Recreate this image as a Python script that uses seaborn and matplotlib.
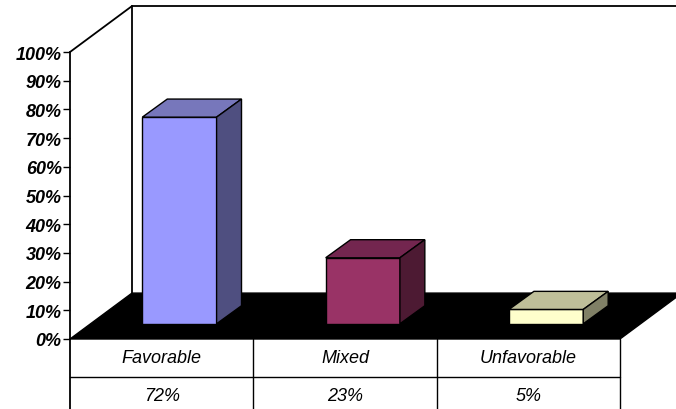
import matplotlib
matplotlib.use('Agg')
import matplotlib.pyplot as plt
from matplotlib.patches import Polygon, Rectangle
import seaborn as sns

# data
categories = ['Favorable', 'Mixed', 'Unfavorable']
values = [72, 23, 5]
value_labels = ['72%', '23%', '5%']
yticks = [0, 10, 20, 30, 40, 50, 60, 70, 80, 90, 100]

# colours of the three faces of each bar
front_colors = ['#9999FF', '#993366', '#FFFFCC']
top_colors = ['#7777BB', '#73264F', '#BFBF99']
side_colors = ['#4F4F80', '#4D1A33', '#808066']

sns.set_style('white')
plt.rcParams['font.family'] = ['Liberation Sans', 'DejaVu Sans']
plt.rcParams['text.color'] = 'black'
plt.rcParams['ytick.color'] = 'black'
plt.rcParams['ytick.labelcolor'] = 'black'

fig = plt.figure(figsize=(6.76, 4.10), dpi=100)
ax = fig.add_axes([70 / 676, 70 / 410, 550 / 676, 287 / 410])

# depth of the floor / walls and of the bars (data units)
DX, DY = 0.338, 16.0
bar_dx, bar_dy = 0.097, 5.3
depth_dx, depth_dy = 0.136, 6.3

# floor
ax.add_patch(Polygon([(-0.5, 0), (2.5, 0), (2.5 + DX, DY), (-0.5 + DX, DY)],
                     closed=True, facecolor='black', edgecolor='black',
                     clip_on=False, zorder=1))
# walls
lw = 1.3
ax.plot([-0.5, -0.5 + DX], [100, 100 + DY], color='black', lw=lw, clip_on=False, zorder=1)
ax.plot([-0.5 + DX, -0.5 + DX], [DY, 100 + DY], color='black', lw=lw, clip_on=False, zorder=1)
ax.plot([-0.5 + DX, 2.5 + DX], [100 + DY, 100 + DY], color='black', lw=lw, clip_on=False, zorder=1)

sns.barplot(x=categories, y=values, hue=categories, palette=front_colors,
            saturation=1, width=0.405, edgecolor='black', linewidth=1,
            legend=False, ax=ax)

bars = [p for p in ax.patches if isinstance(p, Rectangle)]
for i, p in enumerate(bars):
    p.set_x(p.get_x() + bar_dx)
    p.set_y(p.get_y() + bar_dy)
    p.set_clip_on(False)
    p.set_zorder(3)
    x0, y0, w, h = p.get_x(), p.get_y(), p.get_width(), p.get_height()
    top = Polygon([(x0, y0 + h), (x0 + w, y0 + h),
                   (x0 + w + depth_dx, y0 + h + depth_dy), (x0 + depth_dx, y0 + h + depth_dy)],
                  closed=True, facecolor=top_colors[i], edgecolor='black', lw=1,
                  clip_on=False, zorder=3)
    side = Polygon([(x0 + w, y0), (x0 + w + depth_dx, y0 + depth_dy),
                    (x0 + w + depth_dx, y0 + h + depth_dy), (x0 + w, y0 + h)],
                   closed=True, facecolor=side_colors[i], edgecolor='black', lw=1,
                   clip_on=False, zorder=3)
    ax.add_patch(top)
    ax.add_patch(side)

ax.set_xlim(-0.5, 2.5)
ax.set_ylim(0, 100)
ax.set_yticks(yticks)
ax.set_yticklabels([f'{t}%' for t in yticks], fontsize=13,
                   fontweight='bold', fontstyle='italic', color='black')
ax.set_xticks([])
ax.set_xlabel('')
ax.set_ylabel('')
ax.tick_params(axis='y', left=True, length=5, width=1, pad=1, color='black')
for s in ['top', 'right', 'bottom']:
    ax.spines[s].set_visible(False)
ax.spines['left'].set_color('black')
ax.spines['left'].set_linewidth(lw)

# data table under the floor
row1, row2 = -13.2, -26.0
ax.plot([-0.5, 2.5], [row1, row1], color='black', lw=1, clip_on=False)
for xb in [-0.5, 0.5, 1.5, 2.5]:
    ax.plot([xb, xb], [0, row2], color='black', lw=lw if xb == -0.5 else 1,
            clip_on=False)
for i, (c, v) in enumerate(zip(categories, value_labels)):
    ax.text(i, row1 / 2, c, ha='center', va='center', fontsize=13,
            fontstyle='italic', color='black')
    ax.text(i, -19.6, v, ha='center', va='center', fontsize=13,
            fontstyle='italic', color='black')

fig.savefig('out.png', dpi=100)
